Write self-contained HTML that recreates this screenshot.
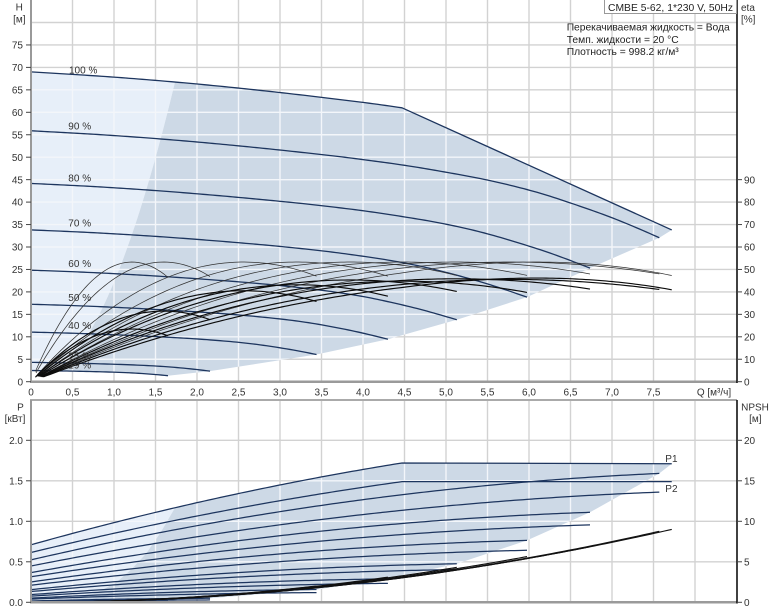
<!DOCTYPE html>
<html><head><meta charset="utf-8">
<style>
html,body{margin:0;padding:0;background:#fff;}
svg{display:block;font-family:"Liberation Sans",Arial,sans-serif;}
.t{font-size:10px;fill:#333;}
.l{font-size:10.3px;fill:#222;}
</style></head><body>
<svg id="c" width="774" height="611" viewBox="0 0 774 611" xmlns="http://www.w3.org/2000/svg">
<g id="plot"></g>
<!-- legend box -->
<rect x="604.5" y="-1" width="132" height="14.5" fill="#fff" stroke="#999" stroke-width="1"/>
<text class="l" x="608" y="10.8" textLength="125">CMBE 5-62, 1*230 V, 50Hz</text>
<text class="l" x="566.7" y="30.5" textLength="163">Перекачиваемая жидкость = Вода</text>
<text class="l" x="566.7" y="42.8" textLength="112">Темп. жидкости = 20 °C</text>
<text class="l" x="566.7" y="55" textLength="112">Плотность = 998.2 кг/м³</text>
<!-- axis titles -->
<text class="t" x="19.3" y="10.3" text-anchor="middle">H</text>
<text class="t" x="19.3" y="22.6" text-anchor="middle">[м]</text>
<text class="t" x="741" y="11" >eta</text>
<text class="t" x="741" y="22.5">[%]</text>
<text class="t" x="20.5" y="410.3" text-anchor="middle">P</text>
<text class="t" x="15" y="421.9" text-anchor="middle">[кВт]</text>
<text class="t" x="755" y="410.3" text-anchor="middle">NPSH</text>
<text class="t" x="755.3" y="422" text-anchor="middle">[м]</text>
<!-- left H ticks -->
<g class="t" text-anchor="end">
<text x="23" y="385.3">0</text><text x="23" y="362.9">5</text><text x="23" y="340.4">10</text><text x="23" y="318">15</text>
<text x="23" y="295.5">20</text><text x="23" y="273.1">25</text><text x="23" y="250.6">30</text><text x="23" y="228.2">35</text>
<text x="23" y="205.7">40</text><text x="23" y="183.3">45</text><text x="23" y="160.8">50</text><text x="23" y="138.4">55</text>
<text x="23" y="115.9">60</text><text x="23" y="93.5">65</text><text x="23" y="71">70</text><text x="23" y="48.6">75</text>
<text x="23" y="443.9">2.0</text><text x="23" y="484.4">1.5</text><text x="23" y="524.9">1.0</text><text x="23" y="565.4">0.5</text><text x="23" y="605.9">0.0</text>
</g>
<!-- right eta ticks -->
<g class="t">
<text x="744" y="385.3">0</text><text x="744" y="362.9">10</text><text x="744" y="340.4">20</text><text x="744" y="318">30</text>
<text x="744" y="295.5">40</text><text x="744" y="273.1">50</text><text x="744" y="250.6">60</text><text x="744" y="228.2">70</text>
<text x="744" y="205.7">80</text><text x="744" y="183.3">90</text>
<text x="744" y="443.9">20</text><text x="744" y="484.4">15</text><text x="744" y="524.9">10</text><text x="744" y="565.4">5</text><text x="744" y="605.9">0</text>
</g>
<!-- x labels -->
<g class="t" text-anchor="middle">
<text x="31" y="395.3">0</text><text x="72.5" y="395.3">0,5</text><text x="114" y="395.3">1,0</text><text x="155.5" y="395.3">1,5</text>
<text x="197" y="395.3">2,0</text><text x="238.5" y="395.3">2,5</text><text x="280" y="395.3">3,0</text><text x="321.5" y="395.3">3,5</text>
<text x="363" y="395.3">4,0</text><text x="404.5" y="395.3">4,5</text><text x="446" y="395.3">5,0</text><text x="487.5" y="395.3">5,5</text>
<text x="529" y="395.3">6,0</text><text x="570.5" y="395.3">6,5</text><text x="612" y="395.3">7,0</text><text x="653.5" y="395.3">7,5</text>
<text x="714" y="395.3">Q [м³/ч]</text>
</g>
<!-- speed labels -->
<g class="t">
<text x="69" y="73.3">100 %</text>
<text x="68.3" y="129.3">90 %</text>
<text x="68.3" y="181.3">80 %</text>
<text x="68.3" y="226.6">70 %</text>
<text x="68.3" y="266.9">60 %</text>
<text x="68.3" y="300.9">50 %</text>
<text x="68.3" y="328.9">40 %</text>
<text x="68.3" y="359.6">25 %</text>
<text x="68.3" y="368.6">19 %</text>
<text x="665.3" y="461.9">P1</text>
<text x="665.3" y="491.9">P2</text>
</g>
</svg>
<script>
(function(){
const NS='http://www.w3.org/2000/svg';
const root=document.getElementById('plot');
function el(tag,attrs,parent){const e=document.createElementNS(NS,tag);for(const k in attrs)e.setAttribute(k,attrs[k]);(parent||root).appendChild(e);return e;}
function pts(a){return a.map(p=>p[0].toFixed(2)+','+p[1].toFixed(2)).join(' ');}
function sample(f,a,b,step){const r=[];const n=Math.max(2,Math.ceil(Math.abs(b-a)/step));for(let i=0;i<=n;i++){const q=a+(b-a)*i/n;r.push([q,f(q)]);}return r;}
const X=q=>31+83*q, YH=h=>381.7-4.49*h, YE=e=>381.7-2.245*e, YP=p=>602.3-81*p, YN=n=>602.3-8.1*n;
const HT=[[0,69],[1,67.83],[2,66.3],[3,64.4],[4,62.2],[4.47,61.0],[5,59.5],[5.5,57.8],[6.12,55.4],[6.7,52.5],[7.17,49.5],[7.8,44.9],[8.41,39.6],[9,34]];
function hermite(t,x){
 const n=t.length;let i=0;
 if(x<=t[0][0])i=0;else if(x>=t[n-1][0])i=n-2;else{while(x>t[i+1][0])i++;}
 const m=k=>k==0?(t[1][1]-t[0][1])/(t[1][0]-t[0][0]):k==n-1?(t[n-1][1]-t[n-2][1])/(t[n-1][0]-t[n-2][0]):(t[k+1][1]-t[k-1][1])/(t[k+1][0]-t[k-1][0]);
 const x0=t[i][0],x1=t[i+1][0],h=x1-x0,s=(x-x0)/h;
 const h00=2*s*s*s-3*s*s+1,h10=s*s*s-2*s*s+s,h01=-2*s*s*s+3*s*s,h11=s*s*s-s*s;
 return h00*t[i][1]+h10*h*m(i)+h01*t[i+1][1]+h11*h*m(i+1);
}
const H100u=q=>hermite(HT,Math.max(0,Math.min(9,q)));
const S=[
 {n:1,qe:7.72,m:0.866,c:0.151},
 {n:0.9,qe:7.57,m:0.855,c:0.153},
 {n:0.8,qe:6.735,m:0.86,c:0.151},
 {n:0.7,qe:5.976,m:0.84,c:0.158},
 {n:0.6,qe:5.13,m:0.85,c:0.164},
 {n:0.5,qe:4.3,m:0.81,c:0.168},
 {n:0.4,qe:3.44,m:0.76,c:0.17},
 {n:0.25,qe:2.157,m:0.59,c:0.17},
 {n:0.19,qe:1.65,m:0.44,c:0.17}
];
function Hn(s,Q){if(s.n===1){if(Q<=4.47)return H100u(Q);return 61.0-(Q-4.47)*(61.0-33.8)/(7.72-4.47);}return s.n*s.n*H100u(Q/s.n);}
const E=q=>53.3*(1-Math.pow(1-q/6.4,2));
function neff(s,Q){if(s.n===1&&Q>4.47)return 1-(Q-4.47)/(7.72-4.47)*(1-7.72/8.55);return s.n;}
const P1u=q=>0.71+0.2875*q-0.01376*q*q;
function P2(s,Q){if(s.n===1){if(Q>4.47)return 1.72*0.866;return P1u(Q)*0.866;}const n=s.n;return n*n*n*P1u(Q/n)*0.866;}
function P1(s,Q){if(s.n===1){if(Q>4.47)return 1.72-0.01*(Q-4.47)/3.25;return P1u(Q);}return P2(s,Q)/s.m;}
const s19=S[S.length-1];
const QL=1.735;
const k=Hn(S[0],QL)/(QL*QL);
// intersection of parabola with 19% curve
let lo=0.05,hi=1.6;for(let i=0;i<50;i++){const mid=(lo+hi)/2;if(k*mid*mid-Hn(s19,mid)>0)hi=mid;else lo=mid;}
const Qi=(lo+hi)/2;
// ---- top polygons
const toPxH=a=>a.map(p=>[X(p[0]),YH(p[1])]);
let lightTop=[].concat(
 toPxH(sample(q=>Hn(S[0],q),0,QL,0.05)),
 toPxH(sample(q=>k*q*q,QL,Qi,0.03)),
 toPxH(sample(q=>Hn(s19,q),Qi,0,0.03))
);
let darkTop=[].concat(
 toPxH(sample(q=>Hn(S[0],q),QL,4.47,0.05)),
 [[X(7.72),YH(33.8)]],
 S.slice(1).map(s=>[X(s.qe),YH(Hn(s,s.qe))]),
 toPxH(sample(q=>Hn(s19,q),1.65,Qi,0.03)),
 toPxH(sample(q=>k*q*q,Qi,QL,0.03))
);
// ---- bottom polygons
const toPxP=a=>a.map(p=>[X(p[0]),YP(p[1])]);
let bnd=S.map(s=>[X(QL*s.n),YP(P1(s,QL*s.n))]);
let lightBot=[].concat(
 toPxP(sample(q=>P1(S[0],q),0,QL,0.05)),
 bnd,
 [[X(QL*0.19),602.3],[31,602.3]]
);
let darkBot=[].concat(
 toPxP(sample(q=>P1(S[0],q),QL,4.47,0.05)),
 [[X(7.72),YP(P1(S[0],7.72))]],
 S.slice(1).map(s=>[X(s.qe),YP(P1(s,s.qe))]),
 toPxP(sample(q=>P1(s19,q),1.65,QL*0.19,0.05)),
 [[X(QL*0.19),602.3]],
 bnd.slice().reverse()
);
const defs=el('defs',{});
function grids(g){
 for(let i=1;i<=16;i++){const x=X(i*0.5);el('line',{x1:x,y1:0,x2:x,y2:381.7},g);el('line',{x1:x,y1:400,x2:x,y2:602.3},g);}
 for(let h=5;h<=80;h+=5){const y=YH(h);el('line',{x1:31,y1:y,x2:737,y2:y},g);}
 for(let p=0.5;p<=2.01;p+=0.5){const y=YP(p);el('line',{x1:31,y1:y,x2:737,y2:y},g);}
}
grids(el('g',{stroke:'#d2d2d2','stroke-width':1.4,fill:'none'}));
const polysLight=[lightTop,lightBot],polysDark=[darkTop,darkBot];
polysLight.forEach(p=>el('polygon',{points:pts(p),fill:'#e7eff9',stroke:'none'}));
polysDark.forEach(p=>el('polygon',{points:pts(p),fill:'#cdd9e6',stroke:'none'}));
const cp=el('clipPath',{id:'shc'},defs);
polysLight.concat(polysDark).forEach(p=>el('polygon',{points:pts(p)},cp));
grids(el('g',{stroke:'#f3f6fa','stroke-width':1.4,fill:'none','clip-path':'url(#shc)'}));
// ---- speed curves
const gc=el('g',{fill:'none','stroke-linejoin':'round'});
S.forEach(s=>{
 let a;
 if(s.n===1){a=toPxH(sample(q=>Hn(s,q),0,4.47,0.05));a.push([X(7.72),YH(33.8)]);}
 else a=toPxH(sample(q=>Hn(s,q),0,s.qe,0.04));
 el('polyline',{points:pts(a),stroke:'#1d355e','stroke-width':1.3},gc);
});
// ---- efficiency curves
S.forEach(s=>{
 const Qs=0.03+0.12*s.n;
 const up=sample(q=>E(q/neff(s,q)),Qs,s.qe,0.04).map(p=>[X(p[0]),YE(p[1])]);
 const lw=sample(q=>E(q/neff(s,q))*s.m,Qs,s.qe,0.04).map(p=>[X(p[0]),YE(p[1])]);
 el('polyline',{points:pts(up),stroke:'#333','stroke-width':0.75},gc);
 el('polyline',{points:pts(lw),stroke:'#0c0c0c','stroke-width':1.15},gc);
});
// ---- power curves
S.forEach(s=>{
 let a1,a2;
 if(s.n===1){
  a1=toPxP(sample(q=>P1(s,q),0,4.47,0.05));a1.push([X(7.72),YP(P1(s,7.72))]);
  a2=toPxP(sample(q=>P2(s,q),0,4.47,0.05));a2.push([X(7.72),YP(P2(s,7.72))]);
 }else{
  a1=toPxP(sample(q=>P1(s,q),0,s.qe,0.05));
  a2=toPxP(sample(q=>P2(s,q),0,s.qe,0.05));
 }
 el('polyline',{points:pts(a1),stroke:'#1d355e','stroke-width':1.25},gc);
 el('polyline',{points:pts(a2),stroke:'#1d355e','stroke-width':1.25},gc);
});
// ---- NPSH curves
S.forEach(s=>{
 const a=sample(q=>s.c*q*q,0,s.qe,0.05).map(p=>[X(p[0]),YN(p[1])]);
 el('polyline',{points:pts(a),stroke:'#111','stroke-width':1.1},gc);
});
// ---- axes
const ax=el('g',{fill:'none'});
el('line',{x1:31,y1:0,x2:31,y2:382.5,stroke:'#999','stroke-width':2},ax);
el('line',{x1:30,y1:381.7,x2:737,y2:381.7,stroke:'#9a9a9a','stroke-width':2.5},ax);
el('line',{x1:737,y1:0,x2:737,y2:383,stroke:'#111','stroke-width':1.6},ax);
el('line',{x1:30,y1:400,x2:737,y2:400,stroke:'#aaa','stroke-width':2},ax);
el('line',{x1:31,y1:400,x2:31,y2:603,stroke:'#999','stroke-width':2},ax);
el('line',{x1:30,y1:602.3,x2:737,y2:602.3,stroke:'#9a9a9a','stroke-width':2.5},ax);
el('line',{x1:737,y1:400,x2:737,y2:603.5,stroke:'#111','stroke-width':1.6},ax);
const tk=el('g',{stroke:'#444','stroke-width':1});
for(let h=0;h<=75;h+=5){const y=YH(h);el('line',{x1:26,y1:y,x2:31,y2:y},tk);}
for(let e=0;e<=90;e+=10){const y=YE(e);el('line',{x1:737,y1:y,x2:742,y2:y},tk);}
for(let p=0;p<=2.01;p+=0.5){const y=YP(p);el('line',{x1:26,y1:y,x2:31,y2:y},tk);}
for(let n=0;n<=20;n+=5){const y=YN(n);el('line',{x1:737,y1:y,x2:742,y2:y},tk);}
})();
</script>
</body></html>
